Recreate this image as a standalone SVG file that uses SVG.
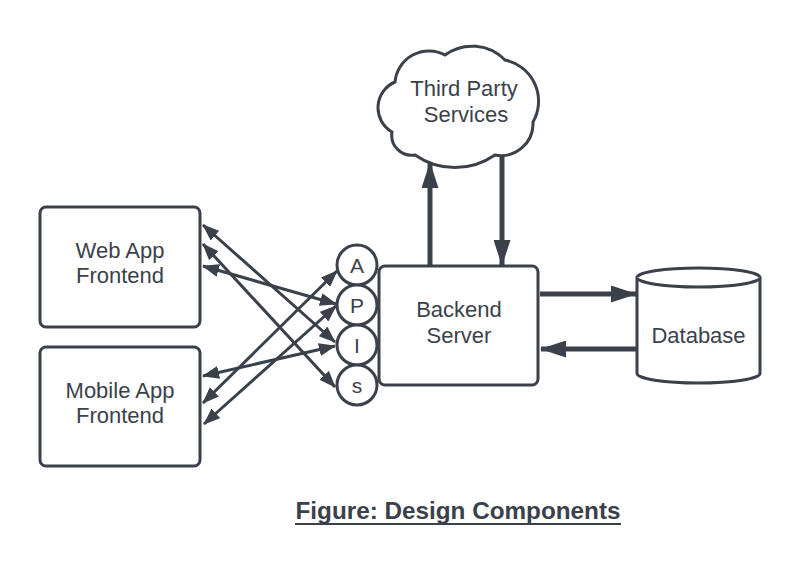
<svg xmlns="http://www.w3.org/2000/svg" width="798" height="588" viewBox="0 0 798 588">
<style>
  .shape{fill:#ffffff;stroke:#3a414b;stroke-width:3;}
  .lbl{font-family:"Liberation Sans",Arial,sans-serif;font-size:22px;fill:#3a414b;text-anchor:middle;}
  .api{font-family:"Liberation Sans",Arial,sans-serif;font-size:21px;fill:#3a414b;text-anchor:middle;}
  .thin{stroke:#3a414b;stroke-width:3;fill:none;marker-start:url(#ah);marker-end:url(#ah);}
  .thick{stroke:#3a414b;stroke-width:5;fill:none;marker-end:url(#ahb);}
</style>
<defs>
  <marker id="ah" markerUnits="userSpaceOnUse" viewBox="0 0 17 13" refX="16" refY="6.5" markerWidth="17" markerHeight="13" orient="auto-start-reverse">
    <path d="M0,0 L17,6.5 L0,13 Z" fill="#3a414b"/>
  </marker>
  <marker id="ahb" markerUnits="userSpaceOnUse" viewBox="0 0 26 17" refX="25" refY="8.5" markerWidth="26" markerHeight="17" orient="auto">
    <path d="M0,0 L26,8.5 L0,17 Z" fill="#3a414b"/>
  </marker>
</defs>
<rect width="798" height="588" fill="#ffffff"/>

<g id="connectors">
  <line class="thin" x1="203" y1="225" x2="335" y2="342"/>
  <line class="thin" x1="203" y1="244" x2="335" y2="387"/>
  <line class="thin" x1="203" y1="266" x2="336" y2="304"/>
  <line class="thin" x1="203" y1="376" x2="335" y2="346"/>
  <line class="thin" x1="203" y1="403" x2="337" y2="271"/>
  <line class="thin" x1="204" y1="424" x2="336" y2="306"/>
  <line class="thick" x1="430" y1="266" x2="430" y2="163"/>
  <line class="thick" x1="502" y1="156" x2="502" y2="265"/>
  <line class="thick" x1="540" y1="294" x2="636" y2="294"/>
  <line class="thick" x1="637" y1="349" x2="541" y2="349"/>
</g>

<g id="web-app">
  <rect class="shape" x="40" y="207" width="160" height="120" rx="6"/>
  <text class="lbl" x="120" y="258">Web App</text>
  <text class="lbl" x="120" y="283">Frontend</text>
</g>

<g id="mobile-app">
  <rect class="shape" x="40" y="347" width="160" height="119" rx="6"/>
  <text class="lbl" x="120" y="398">Mobile App</text>
  <text class="lbl" x="120" y="423">Frontend</text>
</g>

<g id="api">
  <circle class="shape" cx="357" cy="265" r="20"/>
  <circle class="shape" cx="357" cy="305" r="20"/>
  <circle class="shape" cx="357" cy="345" r="20"/>
  <circle class="shape" cx="357" cy="385" r="20"/>
  <text class="api" x="357" y="273">A</text>
  <text class="api" x="357" y="313">P</text>
  <text class="api" x="357" y="353">I</text>
  <text class="api" x="357" y="393">s</text>
</g>

<g id="backend">
  <rect class="shape" x="379" y="266" width="159" height="119" rx="6"/>
  <text class="lbl" x="459" y="317">Backend</text>
  <text class="lbl" x="459" y="343">Server</text>
</g>

<g id="third-party">
  <path class="shape" d="M392,132 A28,28 0 0 1 395,82 A34,34 0 0 1 445,55 A46,46 0 0 1 505,60 A42,42 0 0 1 533,122 A32,32 0 0 1 495,155 A70,70 0 0 1 415,155 A20,20 0 0 1 392,132 Z"/>
  <text class="lbl" x="464" y="96">Third Party</text>
  <text class="lbl" x="466" y="122">Services</text>
</g>

<g id="database">
  <path class="shape" d="M637,277.5 A61.5,9.5 0 0 1 760,277.5 L760,373.5 A61.5,9.5 0 0 1 637,373.5 Z"/>
  <path class="shape" fill="none" d="M637,277.5 A61.5,9.5 0 0 0 760,277.5"/>
  <text class="lbl" x="698.5" y="343">Database</text>
</g>

<g id="title">
  <text x="458" y="519" font-family="Liberation Sans,Arial,sans-serif" font-size="24" font-weight="bold" fill="#3a414b" text-anchor="middle" textLength="325" lengthAdjust="spacingAndGlyphs">Figure: Design Components</text>
  <line x1="295" y1="524" x2="621" y2="524" stroke="#3a414b" stroke-width="2"/>
</g>
</svg>
